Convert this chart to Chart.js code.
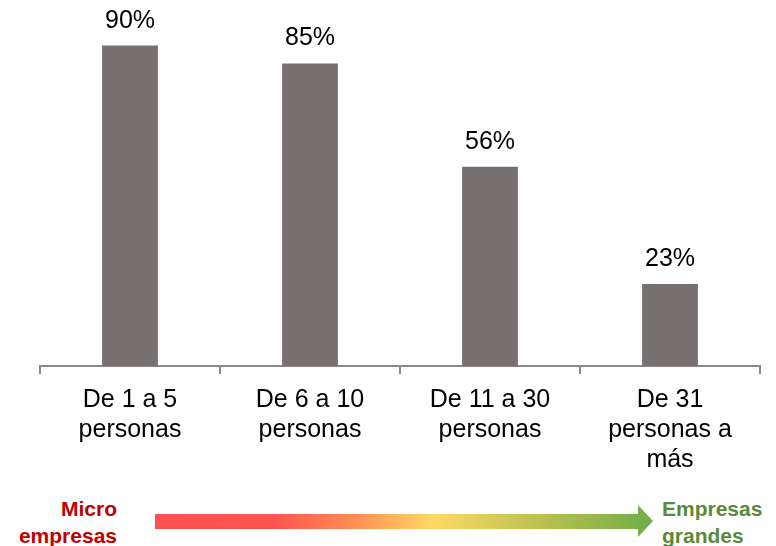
<!DOCTYPE html>
<html>
<head>
<meta charset="utf-8">
<script src="https://cdn.jsdelivr.net/npm/chart.js@4.4.1/dist/chart.umd.min.js"></script>
<style>
  html, body { margin: 0; padding: 0; background: #fff; }
  body { width: 776px; height: 546px; position: relative; overflow: hidden; font-family: "Liberation Sans", Arial, sans-serif; }
  #wrap { position: absolute; left: 0; top: 0; width: 776px; height: 486px; }
  .scale-lbl { position: absolute; font-weight: bold; font-size: 21px; line-height: 27px; }
  #micro { right: 659px; top: 495px; color: #c00000; text-align: right; }
  #grandes { left: 662px; top: 495px; color: #5a8a3a; text-align: left; }
  #arrow { position: absolute; left: 0; top: 490px; }
</style>
</head>
<body>
<div id="wrap"><canvas id="bars"></canvas></div>
<div id="micro" class="scale-lbl">Micro<br>empresas</div>
<div id="grandes" class="scale-lbl">Empresas<br>grandes</div>
<svg id="arrow" width="776" height="56">
  <defs>
    <linearGradient id="grad" x1="155" y1="0" x2="653" y2="0" gradientUnits="userSpaceOnUse">
      <stop offset="0" stop-color="#ff5050"/>
      <stop offset="0.24" stop-color="#ff5550"/>
      <stop offset="0.40" stop-color="#ff8e55"/>
      <stop offset="0.56" stop-color="#ffd966"/>
      <stop offset="0.78" stop-color="#b8c050"/>
      <stop offset="1" stop-color="#70ad47"/>
    </linearGradient>
  </defs>
  <polygon points="155,24 638,24 638,15 653,31 638,47 638,39 155,39" fill="url(#grad)"/>
</svg>

<script>
/* ── Data ── */
const categories = [
  ['De 1 a 5', 'personas'],
  ['De 6 a 10', 'personas'],
  ['De 11 a 30', 'personas'],
  ['De 31', 'personas a', 'más']
];
const shares = [90, 85, 56, 23];

const FONT = '"Liberation Sans", Arial, sans-serif';

/* slightly spaced-out lettering for all canvas text */
const spacing = {
  id: 'spacing',
  beforeInit(chart) { chart.ctx.letterSpacing = '1px'; }
};

/* ── Value labels above each bar ── */
const valueLabels = {
  id: 'valueLabels',
  afterDatasetsDraw(chart) {
    const ctx = chart.ctx;
    const meta = chart.getDatasetMeta(0);
    ctx.save();
    ctx.font = '25px ' + FONT;
    ctx.fillStyle = '#000';
    ctx.textAlign = 'center';
    ctx.textBaseline = 'alphabetic';
    meta.data.forEach((bar, i) => {
      ctx.fillText(shares[i] + '%', bar.x, bar.y - 18);
    });
    ctx.restore();
  }
};

new Chart(document.getElementById('bars'), {
  type: 'bar',
  data: {
    labels: categories,
    datasets: [{
      data: shares,
      backgroundColor: '#767170',
      categoryPercentage: 1,
      barPercentage: 0.31
    }]
  },
  options: {
    responsive: true, maintainAspectRatio: false,
    animation: false,
    layout: { padding: { left: 40, right: 16, top: 10, bottom: 0 } },
    plugins: { legend: { display: false }, tooltip: { enabled: false } },
    scales: {
      x: {
        border: { display: true, color: '#898989', width: 2 },
        grid: { drawOnChartArea: false, drawTicks: true, tickLength: 8, color: '#898989', lineWidth: 2 },
        ticks: { color: '#000', padding: 11, maxRotation: 0, autoSkip: false,
                 font: { family: FONT, size: 25, lineHeight: 1.2 } }
      },
      y: { display: false, min: 0, max: 100 }
    }
  },
  plugins: [spacing, valueLabels]
});
</script>
</body>
</html>
